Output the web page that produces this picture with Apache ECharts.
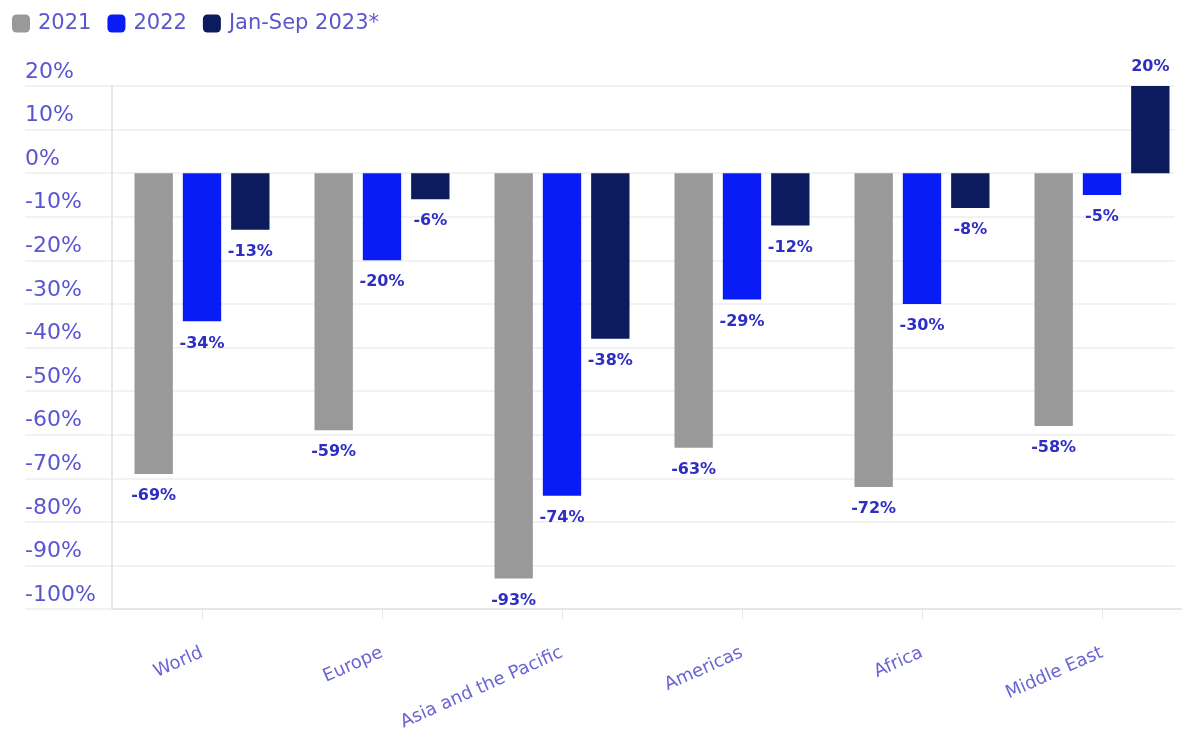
<!DOCTYPE html>
<html>
<head>
<meta charset="utf-8">
<script src="https://cdn.jsdelivr.net/npm/echarts@6/dist/echarts.min.js"></script>
<style>html,body{margin:0;padding:0;background:#fff}#c{width:1182px;height:729px}</style>
</head>
<body>
<div id="c"></div>
<script>
const categories = ['World', 'Europe', 'Asia and the Pacific', 'Americas', 'Africa', 'Middle East'];
const seriesNames = ['2021', '2022', 'Jan-Sep 2023*'];
const values2021 = [-69, -59, -93, -63, -72, -58];
const values2022 = [-34, -20, -74, -29, -30, -5];
const values2023 = [-13, -6, -38, -12, -8, 20];
const yTicks = [20, 10, 0, -10, -20, -30, -40, -50, -60, -70, -80, -90, -100];
const colors = ['#999999', '#0a1cf5', '#0c1a5e'];

const chart = echarts.init(document.getElementById('c'), null, {renderer: 'canvas'});
const labelColor = '#5b55d0';
const dataLabelColor = '#2e2ec4';

function makeSeries(name, vals, color) {
  return {
    name: name,
    type: 'bar',
    xAxisIndex: 0, yAxisIndex: 0,
    barGap: '26%',
    barCategoryGap: '25%',
    itemStyle: {color: color},
    data: vals.map(v => ({
      value: v,
      label: {position: v < 0 ? 'bottom' : 'top', distance: v < 0 ? 14 : 11}
    })),
    label: {
      show: true,
      formatter: p => p.value + '%',
      color: dataLabelColor,
      fontFamily: 'DejaVu Sans',
      fontWeight: 'bold',
      fontSize: 16
    }
  };
}

const option = {
  animation: false,
  color: colors,
  legend: {
    left: 7, top: 8,
    itemWidth: 18, itemHeight: 18, itemGap: 16,
    icon: 'roundRect',
    textStyle: {color: labelColor, fontSize: 21, fontFamily: 'DejaVu Sans', padding: [0, 0, 0, 3]},
    data: seriesNames
  },
  grid: [
    {left: 112, width: 1080, top: 86, bottom: 120, containLabel: false, outerBoundsMode: 'none'},
    {left: 25, right: 7, top: 86, bottom: 120, containLabel: false, outerBoundsMode: 'none'}
  ],
  xAxis: [
    {
      type: 'category', gridIndex: 0, data: categories,
      axisLine: {onZero: false, lineStyle: {color: '#e6e6e6', width: 2}},
      axisTick: {show: true, alignWithLabel: true, length: 10, lineStyle: {color: '#e6e6e6'}},
      axisLabel: {rotate: 24, margin: 43, color: '#6a64d4', fontSize: 18, fontFamily: 'DejaVu Sans', interval: 0}
    },
    {type: 'category', gridIndex: 1, data: categories, show: false}
  ],
  yAxis: [
    {
      type: 'value', gridIndex: 0, min: -100, max: 20, interval: 10,
      axisLine: {show: true, lineStyle: {color: '#e6e6e6', width: 2}},
      axisTick: {show: false},
      splitLine: {show: false},
      axisLabel: {
        align: 'left', verticalAlign: 'bottom', margin: 87,
        color: labelColor, fontSize: 22, fontFamily: 'DejaVu Sans',
        padding: [0, 0, 3, 0],
        formatter: v => (yTicks.indexOf(v) >= 0 ? v + '%' : '')
      }
    },
    {
      type: 'value', gridIndex: 1, min: -100, max: 20, interval: 10,
      axisLine: {show: false}, axisTick: {show: false}, axisLabel: {show: false},
      splitLine: {show: true, lineStyle: {color: '#eeeeee', width: 1.5}}
    }
  ],
  series: [
    makeSeries(seriesNames[0], values2021, colors[0]),
    makeSeries(seriesNames[1], values2022, colors[1]),
    makeSeries(seriesNames[2], values2023, colors[2]),
    {type: 'bar', xAxisIndex: 1, yAxisIndex: 1, data: [], silent: true}
  ]
};
chart.setOption(option);
</script>
</body>
</html>
